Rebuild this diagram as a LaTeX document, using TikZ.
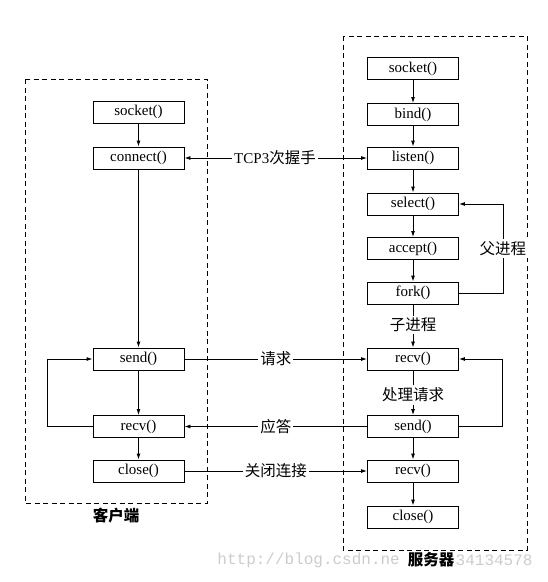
\documentclass[tikz,border=0pt]{standalone}
\usepackage{fontspec}
\setmainfont{Liberation Serif}
\newfontfamily\cjk{Noto Sans CJK SC}
\newfontfamily\wmfont{Liberation Mono}
\usetikzlibrary{arrows.meta,positioning}

\begin{document}
\begin{tikzpicture}[
  x=1pt,y=-1pt,
  >={Latex[length=6pt,width=4pt]},
  line width=0.9pt,
  fn/.style={draw,minimum width=91pt,minimum height=22pt,inner sep=0pt,font=\fontsize{15}{17}\selectfont},
  lbl/.style={fill=white,inner sep=2pt,font=\cjk\fontsize{15.5}{17}\selectfont},
  grp/.style={inner sep=0pt,font=\cjk\bfseries\fontsize{15.5}{17}\selectfont},
  zone/.style={draw,dash pattern=on 5pt off 3.5pt},
  wmark/.style={text=gray!40,font=\wmfont\fontsize{16}{18}\selectfont,inner sep=0pt}
]
  \useasboundingbox (0,0) rectangle (548,582);
  % Dashed frames
  \draw[zone] (25,79) rectangle (207,503);
  \draw[zone] (343,36) rectangle (527,550);
  % Watermark
  \node[wmark,anchor=west] (wm-a) at (217,560) {http://blog.csdn.ne};
  \node[wmark,anchor=east] (wm-b) at (533,560) {34134578};
  % Frame captions
  \node[grp] (client) at (116,516) {客户端};
  \node[grp] (server) at (431,560) {服务器};
  % Client column
  \node[fn] (c-socket)  at (138.5,112) {socket()};
  \node[fn] (c-connect) at (138.5,158) {connect()};
  \node[fn] (c-send)    at (138.5,359) {send()};
  \node[fn] (c-recv)    at (138.5,426.5) {recv()};
  \node[fn] (c-close)   at (138.5,471) {close()};
  % Server column
  \node[fn] (s-socket)  at (413,68.5) {socket()};
  \node[fn] (s-bind)    at (413,114.5) {bind()};
  \node[fn] (s-listen)  at (413,158) {listen()};
  \node[fn] (s-select)  at (413,204) {select()};
  \node[fn] (s-accept)  at (413,248.5) {accept()};
  \node[fn] (s-fork)    at (413,293) {fork()};
  \node[lbl] (child)    at (413,325) {子进程};
  \node[fn] (s-recv)    at (413,359) {recv()};
  \node[lbl] (work)     at (413,395) {处理请求};
  \node[fn] (s-send)    at (413,426.5) {send()};
  \node[fn] (s-recv2)   at (413,471) {recv()};
  \node[fn] (s-close)   at (413,517) {close()};
  % Client flow
  \draw[->] (c-socket) -- (c-connect);
  \draw[->] (c-connect) -- (c-send);
  \draw[->] (c-send) -- (c-recv);
  \draw[->] (c-recv) -- (c-close);
  \draw[->] (c-recv.west) -- ++(-45,0) |- (c-send.west);
  % Server flow
  \draw[->] (s-socket) -- (s-bind);
  \draw[->] (s-bind) -- (s-listen);
  \draw[->] (s-listen) -- (s-select);
  \draw[->] (s-select) -- (s-accept);
  \draw[->] (s-accept) -- (s-fork);
  \draw (s-fork) -- (child);
  \draw[->] (child) -- (s-recv);
  \draw (s-recv) -- (work);
  \draw[->] (work) -- (s-send);
  \draw[->] (s-send) -- (s-recv2);
  \draw[->] (s-recv2) -- (s-close);
  \draw[->] (s-fork.east) -- ++(44,0) coordinate (pa)
    -- (pa |- s-select.east) node[midway,lbl] (parent) {父进程} -- (s-select.east);
  \draw[->] (s-send.east) -- ++(43,0) |- (s-recv.east);
  % Between client and server
  \node[lbl,font=\fontsize{15}{17}\selectfont] (tcp) at (275,158) {TCP3{\cjk\fontsize{15.5}{17}\selectfont 次握手}};
  \draw[->] (tcp) -- (c-connect);
  \draw[->] (tcp) -- (s-listen);
  \draw[->] (c-send) -- (s-recv) node[midway,lbl] (req) {请求};
  \draw[->] (s-send) -- (c-recv) node[midway,lbl] (ans) {应答};
  \draw[->] (c-close) -- (s-recv2) node[midway,lbl] (fin) {关闭连接};
\end{tikzpicture}
\end{document}
